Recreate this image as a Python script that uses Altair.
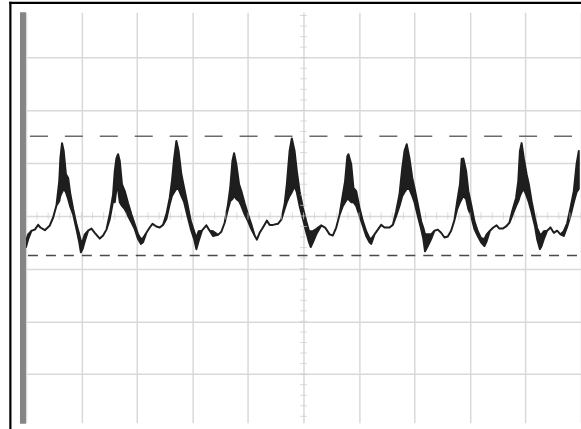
import altair as alt
import pandas as pd

# time in screen divisions (0..10), voltage in divisions (0 = centre line)
t = [0.00, 0.04, 0.10, 0.16, 0.22, 0.26, 0.34, 0.43, 0.49, 0.55,
     0.60, 0.62, 0.65, 0.68, 0.72, 0.76, 0.80, 0.85, 0.91, 0.96,
     0.99, 1.02, 1.06, 1.12, 1.18, 1.24, 1.33, 1.39, 1.45, 1.51,
     1.57, 1.60, 1.63, 1.66, 1.69, 1.73, 1.78, 1.84, 1.90, 1.96,
     2.02, 2.07, 2.11, 2.17, 2.23, 2.28, 2.35, 2.41, 2.47, 2.53,
     2.59, 2.63, 2.67, 2.71, 2.75, 2.80, 2.85, 2.91, 2.97, 3.03,
     3.07, 3.11, 3.17, 3.25, 3.31, 3.37, 3.46, 3.52, 3.58, 3.64,
     3.68, 3.72, 3.75, 3.79, 3.84, 3.88, 3.94, 4.00, 4.06, 4.12,
     4.16, 4.21, 4.27, 4.34, 4.39, 4.45, 4.54, 4.60, 4.66, 4.70,
     4.75, 4.79, 4.84, 4.88, 4.93, 4.99, 5.05, 5.10, 5.13, 5.17,
     5.23, 5.32, 5.39, 5.47, 5.53, 5.59, 5.65, 5.71, 5.75, 5.79,
     5.81, 5.86, 5.90, 5.95, 6.01, 6.07, 6.13, 6.19, 6.22, 6.28,
     6.34, 6.40, 6.46, 6.55, 6.61, 6.67, 6.73, 6.78, 6.82, 6.86,
     6.91, 6.96, 7.00, 7.06, 7.12, 7.16, 7.19, 7.24, 7.30, 7.36,
     7.42, 7.48, 7.54, 7.60, 7.66, 7.72, 7.77, 7.82, 7.85, 7.88,
     7.93, 7.97, 8.02, 8.08, 8.14, 8.20, 8.26, 8.30, 8.36, 8.42,
     8.48, 8.53, 8.59, 8.65, 8.71, 8.76, 8.83, 8.87, 8.90, 8.93,
     8.97, 9.02, 9.06, 9.11, 9.17, 9.21, 9.26, 9.29, 9.33, 9.39,
     9.45, 9.51, 9.57, 9.63, 9.69, 9.75, 9.81, 9.87, 9.92, 9.96]

hi = [-0.48, -0.35, -0.28, -0.26, -0.17, -0.22, -0.27, -0.18, -0.03, 0.20,
      0.66, 1.09, 1.38, 1.23, 0.79, 0.72, 0.41, 0.13, -0.16, -0.35,
      -0.48, -0.48, -0.35, -0.28, -0.24, -0.32, -0.43, -0.37, -0.26, 0.03,
      0.41, 0.85, 1.09, 1.17, 1.04, 0.60, 0.47, 0.24, 0.03, -0.16,
      -0.35, -0.44, -0.42, -0.32, -0.22, -0.15, -0.20, -0.22, -0.17, 0.03,
      0.34, 0.66, 1.09, 1.42, 1.23, 0.79, 0.53, 0.22, -0.10, -0.29,
      -0.42, -0.29, -0.28, -0.18, -0.28, -0.29, -0.36, -0.30, -0.13, 0.22,
      0.53, 1.04, 1.19, 0.98, 0.60, 0.47, 0.24, 0.03, -0.16, -0.37,
      -0.45, -0.32, -0.22, -0.09, -0.17, -0.17, -0.15, -0.07, 0.22, 0.60,
      1.23, 1.47, 1.23, 0.85, 0.47, 0.15, -0.10, -0.29, -0.29, -0.29,
      -0.25, -0.18, -0.22, -0.35, -0.37, -0.22, 0.02, 0.41, 0.66, 1.13,
      1.17, 0.98, 0.53, 0.47, 0.15, -0.10, -0.29, -0.42, -0.44, -0.35,
      -0.26, -0.17, -0.22, -0.22, -0.17, 0.09, 0.41, 0.91, 1.23, 1.36,
      1.09, 0.72, 0.53, 0.22, -0.10, -0.23, -0.35, -0.35, -0.35, -0.28,
      -0.26, -0.32, -0.41, -0.39, -0.28, -0.08, 0.28, 0.60, 1.08, 1.09,
      0.85, 0.47, 0.22, -0.10, -0.29, -0.42, -0.44, -0.35, -0.28, -0.22,
      -0.18, -0.24, -0.24, -0.20, -0.13, 0.09, 0.34, 0.66, 1.23, 1.38,
      1.09, 0.79, 0.60, 0.28, -0.04, -0.23, -0.35, -0.35, -0.29, -0.28,
      -0.22, -0.32, -0.28, -0.35, -0.29, -0.14, 0.15, 0.47, 0.98, 1.23]

lo = [-0.59, -0.44, -0.28, -0.26, -0.17, -0.22, -0.27, -0.18, -0.03, 0.20,
      0.28, 0.38, 0.45, 0.51, 0.45, 0.32, 0.17, 0.03, -0.25, -0.50,
      -0.69, -0.63, -0.48, -0.28, -0.24, -0.32, -0.43, -0.37, -0.26, -0.06,
      0.28, 0.26, 0.51, 0.51, 0.26, 0.19, 0.13, 0.00, -0.12, -0.25,
      -0.44, -0.53, -0.50, -0.32, -0.22, -0.15, -0.20, -0.22, -0.17, -0.06,
      0.22, 0.38, 0.45, 0.51, 0.51, 0.38, 0.26, 0.00, -0.25, -0.44,
      -0.63, -0.48, -0.28, -0.18, -0.28, -0.38, -0.36, -0.30, -0.13, 0.13,
      0.28, 0.32, 0.38, 0.32, 0.28, 0.19, 0.03, -0.10, -0.25, -0.37,
      -0.45, -0.32, -0.22, -0.09, -0.17, -0.17, -0.15, -0.07, 0.13, 0.26,
      0.38, 0.45, 0.56, 0.45, 0.19, -0.06, -0.31, -0.50, -0.59, -0.50,
      -0.35, -0.18, -0.22, -0.35, -0.37, -0.22, 0.02, 0.19, 0.26, 0.32,
      0.32, 0.26, 0.26, 0.19, 0.00, -0.19, -0.38, -0.50, -0.53, -0.35,
      -0.26, -0.17, -0.22, -0.22, -0.17, 0.00, 0.19, 0.38, 0.45, 0.51,
      0.51, 0.38, 0.26, 0.00, -0.25, -0.44, -0.67, -0.57, -0.44, -0.28,
      -0.26, -0.32, -0.41, -0.39, -0.28, -0.08, 0.13, 0.26, 0.32, 0.38,
      0.32, 0.13, 0.00, -0.25, -0.38, -0.50, -0.57, -0.48, -0.28, -0.22,
      -0.18, -0.24, -0.24, -0.20, -0.13, 0.00, 0.19, 0.28, 0.38, 0.45,
      0.51, 0.38, 0.26, 0.07, -0.19, -0.44, -0.63, -0.57, -0.44, -0.28,
      -0.22, -0.32, -0.28, -0.35, -0.38, -0.21, 0.00, 0.26, 0.45, 0.51]

cursor_upper = [1.51]
cursor_lower = [-0.75]
x_grid = [0, 1, 2, 3, 4, 5, 6, 7, 8, 9, 10]
y_grid = [-3, -2, -1, 0, 1, 2, 3]
x_minor = [i / 5 for i in range(51)]
y_minor = [-3.8 + i / 5 for i in range(39)]

W, H = 556, 411
xs = alt.Scale(domain=[0, 10], nice=False, zero=False)
ys = alt.Scale(domain=[-3.92, 3.86], nice=False, zero=False)
grid_col = "#d9d9d9"
ax_x = alt.Axis(values=x_grid, grid=True, gridColor=grid_col, gridWidth=1.5,
                labels=False, ticks=False, domain=False, title=None)
ax_y = alt.Axis(values=y_grid, grid=True, gridColor=grid_col, gridWidth=1.5,
                labels=False, ticks=False, domain=False, title=None)

df = pd.DataFrame({"t": t, "hi": hi, "lo": lo})

trace = alt.Chart(df).mark_area(
    color="#1e1e1e", stroke="#1e1e1e", strokeWidth=2, strokeJoin="round",
    interpolate="linear", clip=True
).encode(
    x=alt.X("t:Q", scale=xs, axis=ax_x),
    y=alt.Y("hi:Q", scale=ys, axis=ax_y),
    y2="lo:Q",
)

hticks = alt.Chart(pd.DataFrame({"t": x_minor, "v": [0.0] * len(x_minor)})).mark_tick(
    orient="vertical", size=7, thickness=1, color="#cccccc"
).encode(x=alt.X("t:Q", scale=xs, axis=ax_x), y=alt.Y("v:Q", scale=ys, axis=ax_y))

vticks = alt.Chart(pd.DataFrame({"t": [5.0] * len(y_minor), "v": y_minor})).mark_tick(
    orient="horizontal", size=7, thickness=1, color="#cccccc"
).encode(x=alt.X("t:Q", scale=xs, axis=ax_x), y=alt.Y("v:Q", scale=ys, axis=ax_y))

up = alt.Chart(pd.DataFrame({"v": cursor_upper})).mark_rule(
    color="#6a6a6a", strokeWidth=1.6, strokeDash=[18, 17], strokeDashOffset=26
).encode(y=alt.Y("v:Q", scale=ys, axis=ax_y))

down = alt.Chart(pd.DataFrame({"v": cursor_lower})).mark_rule(
    color="#4a4a4a", strokeWidth=1.6, strokeDash=[10, 8], strokeDashOffset=14
).encode(y=alt.Y("v:Q", scale=ys, axis=ax_y))

one = pd.DataFrame({"a": [0]})
bar = alt.Chart(one).mark_rect(color="#858585", clip=False).encode(
    x=alt.value(-6), x2=alt.value(0), y=alt.value(0), y2=alt.value(H + 1))
frame_left = alt.Chart(one).mark_rule(color="#000000", strokeWidth=2.2, clip=False).encode(
    x=alt.value(-15.6), y=alt.value(-10.5), y2=alt.value(H + 10))
frame_top = alt.Chart(one).mark_rule(color="#000000", strokeWidth=2.2, clip=False).encode(
    x=alt.value(-16.7), x2=alt.value(W + 5), y=alt.value(-9.5))

chart = alt.layer(trace, hticks, vticks, up, down, bar, frame_left, frame_top).properties(
    width=W, height=H,
    autosize=alt.AutoSizeParams(type="none"),
    padding={"left": 26, "top": 12, "right": 0, "bottom": 6},
    background="white",
).configure_view(strokeOpacity=0)

chart.save("out.html", embed_options={"renderer": "svg", "actions": False})
